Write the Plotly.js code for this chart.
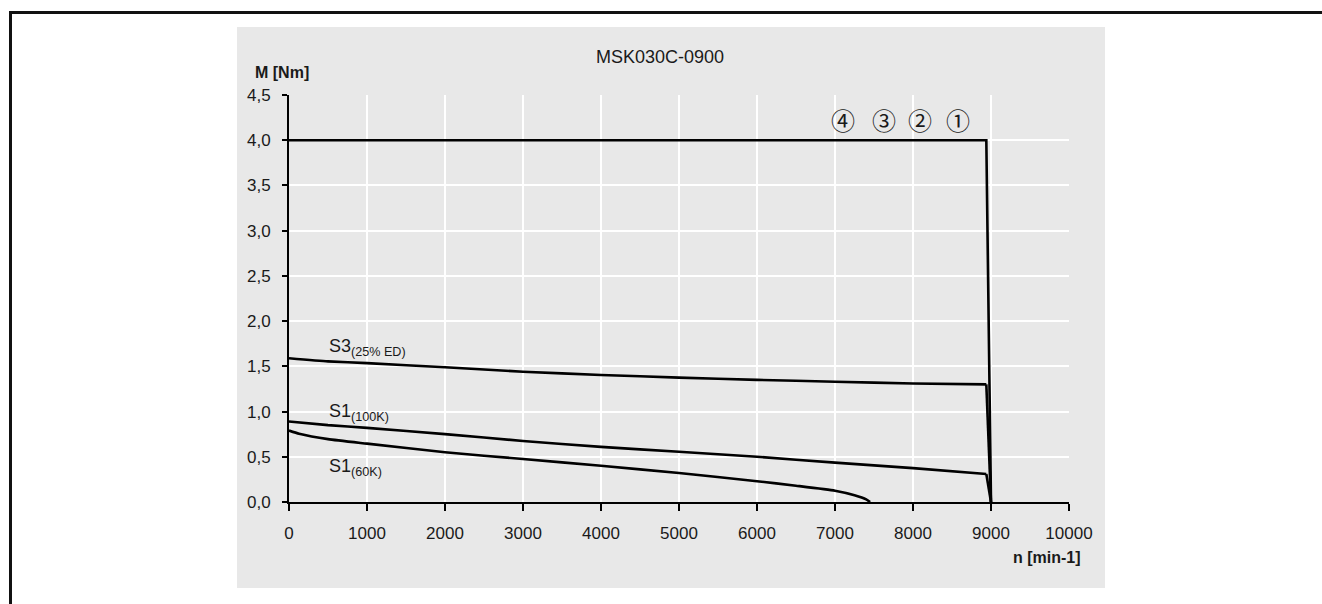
<!DOCTYPE html>
<html>
<head>
<meta charset="utf-8">
<script src="https://cdn.plot.ly/plotly-3.0.1.min.js"></script>
<style>
html,body{margin:0;padding:0;background:#ffffff;}
#chart{width:1322px;height:604px;}
</style>
</head>
<body>
<div id="chart"></div>
<script>
// ---- data ----
const chartTitle = 'MSK030C-0900';
const yTitle = 'M [Nm]';
const xTitle = 'n [min-1]';

const xTickVals = [0, 1000, 2000, 3000, 4000, 5000, 6000, 7000, 8000, 9000, 10000];
const xTickText = ['0', '1000', '2000', '3000', '4000', '5000', '6000', '7000', '8000', '9000', '10000'];
const yTickVals = [0, 0.5, 1, 1.5, 2, 2.5, 3, 3.5, 4, 4.5];
const yTickText = ['0,0', '0,5', '1,0', '1,5', '2,0', '2,5', '3,0', '3,5', '4,0', '4,5'];

// maximum torque (curves 1-4)
const maxN = [0, 8940, 9000];
const maxM = [4.0, 4.0, 0];

// S3 (25% ED)
const s3N = [0, 500, 1000, 2000, 3000, 4000, 5000, 6000, 7000, 8000, 8940, 9000];
const s3M = [1.59, 1.555, 1.535, 1.49, 1.44, 1.405, 1.375, 1.35, 1.33, 1.31, 1.30, 0];

// S1 (100K)
const s1hN = [0, 500, 1000, 2000, 3000, 4000, 5000, 6000, 7000, 8000, 8940, 9000];
const s1hM = [0.89, 0.85, 0.82, 0.75, 0.675, 0.61, 0.555, 0.50, 0.435, 0.375, 0.31, 0];

// S1 (60K)
const s1lN = [0, 130, 500, 1000, 2000, 3000, 4000, 5000, 6000, 6500, 7000, 7250, 7400, 7450];
const s1lM = [0.79, 0.755, 0.695, 0.645, 0.55, 0.475, 0.40, 0.32, 0.23, 0.18, 0.125, 0.075, 0.03, 0];

// curve labels
const curveLabels = ['S3<sub>(25% ED)</sub>', 'S1<sub>(100K)</sub>', 'S1<sub>(60K)</sub>'];
const curveLabelN = [487, 487, 487];
const curveLabelM = [1.71, 0.995, 0.385];

// circled curve numbers
const numLabels = ['④', '③', '②', '①'];
const numLabelN = [7100, 7630, 8090, 8580];
const numLabelM = [4.225, 4.225, 4.225, 4.225];

// ---- chart ----
const lineStyle = {color: '#000000', width: 2.6};
const traces = [];
// the smooth part of each curve, then its final drop as a straight segment
[[maxN, maxM, false], [s3N, s3M, true], [s1hN, s1hM, true], [s1lN, s1lM, false]].forEach(([xs, ys, drop]) => {
  const cut = drop ? xs.length - 1 : xs.length;
  traces.push({x: xs.slice(0, cut), y: ys.slice(0, cut), mode: 'lines',
    line: Object.assign({shape: xs.length > 3 ? 'spline' : 'linear', smoothing: 0.5}, lineStyle), hoverinfo: 'skip'});
  if (drop) {
    traces.push({x: xs.slice(cut - 1), y: ys.slice(cut - 1), mode: 'lines', line: lineStyle, hoverinfo: 'skip'});
  }
});

const fontFam = '"Liberation Sans", Arial, Helvetica, sans-serif';
const textCol = '#1a1a1a';

const annotations = [];
curveLabels.forEach((t, i) => annotations.push({
  x: curveLabelN[i], y: curveLabelM[i], xref: 'x', yref: 'y', text: t,
  showarrow: false, xanchor: 'left', yanchor: 'middle',
  font: {family: fontFam, size: 18, color: textCol}
}));
numLabels.forEach((t, i) => annotations.push({
  x: numLabelN[i], y: numLabelM[i], xref: 'x', yref: 'y', text: t,
  showarrow: false, xanchor: 'center', yanchor: 'middle',
  font: {family: '"Noto Sans CJK JP", "DejaVu Sans", sans-serif', size: 24, color: textCol}
}));
annotations.push({
  x: (253 - 289) / 780, y: (502 - 72) / 407, xref: 'paper', yref: 'paper',
  text: '<b>' + yTitle + '</b>', showarrow: false, xanchor: 'left', yanchor: 'middle',
  font: {family: fontFam, size: 16, color: textCol}
});
annotations.push({
  x: (1083 - 289) / 780, y: (502 - 557) / 407, xref: 'paper', yref: 'paper',
  text: '<b>' + xTitle + '</b>', showarrow: false, xanchor: 'right', yanchor: 'middle',
  font: {family: fontFam, size: 16, color: textCol}
});

const layout = {
  width: 1322, height: 604,
  margin: {l: 289, r: 253, t: 95, b: 102, pad: 0},
  paper_bgcolor: '#ffffff',
  plot_bgcolor: '#e8e8e8',
  showlegend: false,
  font: {family: fontFam, size: 17, color: textCol},
  title: {
    text: chartTitle, xref: 'paper', x: (660 - 289) / 780, xanchor: 'center',
    yref: 'container', y: 1 - 57 / 604, yanchor: 'middle',
    font: {family: fontFam, size: 18, color: textCol}
  },
  xaxis: {
    range: [0, 10000], fixedrange: true,
    tickmode: 'array', tickvals: xTickVals, ticktext: xTickText,
    ticks: 'outside', ticklen: 7, tickwidth: 2, tickcolor: '#000000',
    ticklabelstandoff: 8,
    showline: true, linecolor: '#000000', linewidth: 2,
    showgrid: true, gridcolor: '#ffffff', gridwidth: 2,
    zeroline: false,
    tickfont: {family: fontFam, size: 17, color: textCol}
  },
  yaxis: {
    range: [0, 4.5], fixedrange: true,
    tickmode: 'array', tickvals: yTickVals, ticktext: yTickText,
    ticks: 'outside', ticklen: 5, tickwidth: 2, tickcolor: '#000000',
    ticklabelstandoff: 8,
    showline: true, linecolor: '#000000', linewidth: 2,
    showgrid: true, gridcolor: '#ffffff', gridwidth: 2,
    zeroline: false,
    tickfont: {family: fontFam, size: 17, color: textCol}
  },
  shapes: [
    {type: 'rect', xref: 'paper', yref: 'paper', layer: 'below',
     x0: (237 - 289) / 780, x1: (1105 - 289) / 780, y0: (502 - 588) / 407, y1: (502 - 27) / 407,
     fillcolor: '#e8e8e8', line: {width: 0}},
    {type: 'line', xref: 'paper', yref: 'paper', layer: 'above',
     x0: (10.5 - 289) / 780, x1: (1335 - 289) / 780, y0: (502 - 12.5) / 407, y1: (502 - 12.5) / 407,
     line: {color: '#111111', width: 3}},
    {type: 'line', xref: 'paper', yref: 'paper', layer: 'above',
     x0: (10.5 - 289) / 780, x1: (10.5 - 289) / 780, y0: (502 - 11) / 407, y1: (502 - 620) / 407,
     line: {color: '#111111', width: 3}}
  ],
  annotations: annotations
};

Plotly.newPlot('chart', traces, layout, {staticPlot: true, displayModeBar: false});
</script>
</body>
</html>
